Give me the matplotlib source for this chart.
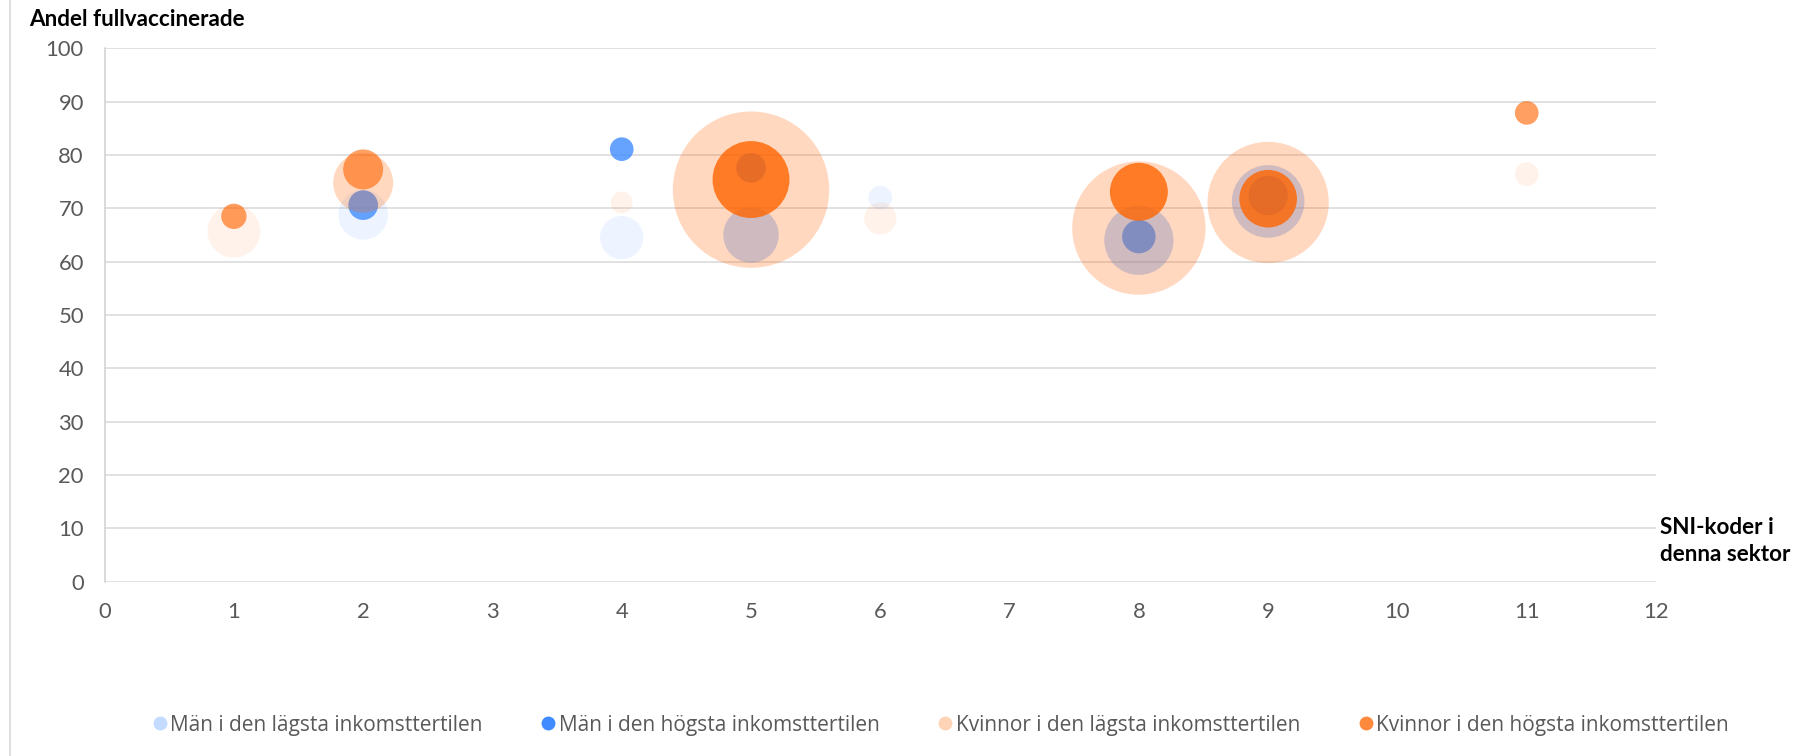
import matplotlib
matplotlib.use("Agg")
import matplotlib.pyplot as plt
from matplotlib.colors import to_rgba
from matplotlib.lines import Line2D
import numpy as np

# ---------------- data ----------------
series_names = [
    "Män i den lägsta inkomsttertilen",
    "Män i den högsta inkomsttertilen",
    "Kvinnor i den lägsta inkomsttertilen",
    "Kvinnor i den högsta inkomsttertilen",
]

men_low_x = [2, 4, 5, 6, 8, 9]
men_low_y = [68.8, 64.5, 65.0, 72.0, 64.0, 71.3]
men_low_size = [62, 47, 77, 14, 120, 132]

men_high_x = [2, 4, 5, 8, 9]
men_high_y = [70.6, 81.1, 77.6, 64.7, 72.4]
men_high_size = [22, 14, 22, 28, 39]

women_low_x = [1, 2, 4, 5, 6, 8, 9, 11]
women_low_y = [65.7, 74.8, 71.1, 73.5, 68.1, 66.3, 71.1, 76.4]
women_low_size = [70, 90, 12, 612, 26, 445, 368, 14]

women_high_x = [1, 2, 5, 8, 9, 11]
women_high_y = [68.5, 77.3, 75.4, 73.1, 71.8, 87.9]
women_high_size = [16, 40, 148, 84, 83, 14]

x_ticks = list(range(0, 13))
y_ticks = list(range(0, 101, 10))

# ---------------- style ----------------
BLUE = "#408CFF"
ORANGE = "#FF6400"
men_low_alpha = [0.09, 0.09, 0.33, 0.09, 0.33, 0.33]
men_high_alpha = [0.8, 0.8, 0.8, 0.8, 0.8]
women_low_alpha = [0.08, 0.25, 0.08, 0.25, 0.08, 0.25, 0.25, 0.08]
women_high_alpha = [0.62, 0.6, 0.8, 0.8, 0.8, 0.62]
legend_colors = ["#C2DBFF", "#3F8BFF", "#FFD3B6", "#FF8A3D"]

W, H, DPI = 1802, 756, 100
MAX_R_PX = 78.2
all_sizes = men_low_size + men_high_size + women_low_size + women_high_size
max_size = max(all_sizes)

def s_of(sizes):
    r_px = MAX_R_PX * np.sqrt(np.array(sizes, float) / max_size)
    r_pt = r_px * 72.0 / DPI
    return (2 * r_pt) ** 2

fig = plt.figure(figsize=(W / DPI, H / DPI), dpi=DPI)
left, right, top, bottom = 104.6, 1656, 48.4, 581.5
ax = fig.add_axes([left / W, 1 - bottom / H, (right - left) / W, (bottom - top) / H])

series = [
    (men_low_x, men_low_y, men_low_size, BLUE, men_low_alpha),
    (men_high_x, men_high_y, men_high_size, BLUE, men_high_alpha),
    (women_low_x, women_low_y, women_low_size, ORANGE, women_low_alpha),
    (women_high_x, women_high_y, women_high_size, ORANGE, women_high_alpha),
]
for i, (xs, ys, ss, col, al) in enumerate(series):
    cols = [to_rgba(col, a) for a in al]
    ax.scatter(xs, ys, s=s_of(ss), c=cols, edgecolors="none", zorder=3 + i)

ax.set_xlim(0, 12)
ax.set_ylim(0, 100)
ax.set_xticks(x_ticks)
ax.set_yticks(y_ticks)
ax.grid(axis="y", color="#D9D9D9", linewidth=1.1, zorder=0)
ax.set_axisbelow(True)
for sp in ["top", "right", "bottom"]:
    ax.spines[sp].set_visible(False)
ax.spines["left"].set_color("#D0D0D0")
ax.spines["left"].set_linewidth(1.1)
ax.tick_params(length=0, labelsize=15.8, labelcolor="#595959")
ax.tick_params(axis="x", pad=15)
ax.tick_params(axis="y", pad=15)
for lab in ax.get_xticklabels() + ax.get_yticklabels():
    lab.set_fontfamily("Lato")

fig.text(29 / W, 1 - 20 / H, "Andel fullvaccinerade", fontsize=16.2, fontweight="bold",
         fontfamily="Lato", ha="left", va="center", color="black")
fig.text(1660 / W, 1 - 541 / H, "SNI-koder i\ndenna sektor", fontsize=16.2, fontweight="bold",
         fontfamily="Lato", ha="left", va="center", color="black", linespacing=1.3)

# chart-area border on the left
fig.add_artist(Line2D([10 / W, 10 / W], [0, 1], transform=fig.transFigure,
                      color="#D9D9D9", linewidth=1.2))

handles = [Line2D([], [], marker="o", linestyle="none", markersize=10,
                  markerfacecolor=c, markeredgecolor="none") for c in legend_colors]
leg = fig.legend(handles, series_names, loc="center", bbox_to_anchor=(940 / W, 1 - 725 / H),
                 ncol=4, frameon=False, handletextpad=0.1, columnspacing=2.75,
                 prop={"family": "Open Sans", "size": 15}, labelcolor="#595959",
                 handlelength=0.8)

fig.savefig("out.png", dpi=DPI)
